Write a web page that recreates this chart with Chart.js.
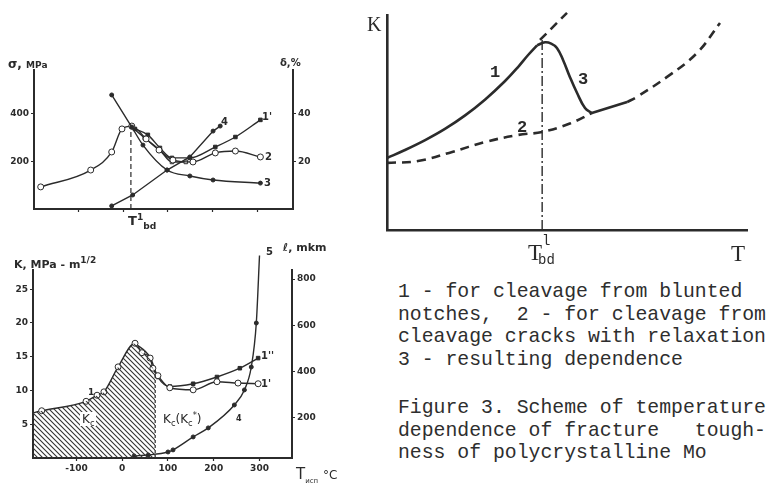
<!DOCTYPE html>
<html>
<head>
<meta charset="utf-8">
<script src="https://cdn.jsdelivr.net/npm/chart.js@4.4.0/dist/chart.umd.min.js"></script>
<style>
  body { margin: 0; width: 773px; height: 493px; background: #fff; position: relative; overflow: hidden; color: #2a2a2a; font-family: "Liberation Sans", sans-serif; }
  canvas { position: absolute; }
  .lb { position: absolute; white-space: nowrap; line-height: 1; }
  .hw { font-family: "DejaVu Sans", sans-serif; font-weight: bold; font-size: 10px; }
  .sr { font-family: "Liberation Serif", serif; }
  .tw { font-family: "Liberation Mono", monospace; }
  .cap { position: absolute; left: 398px; font-family: "Liberation Mono", monospace; font-size: 19.8px; line-height: 22.7px; white-space: pre; color: #2e2e2e; }
  sub, sup { font-size: 70%; line-height: 0; }
</style>
</head>
<body>
<canvas id="topChart" width="330" height="175" style="left:0;top:60px"></canvas>
<canvas id="botChart" width="340" height="248" style="left:0;top:245px"></canvas>
<canvas id="schemeChart" width="410" height="262" style="left:357px;top:0"></canvas>

<!-- top-left panel labels -->
<div class="lb hw" style="left:8px;top:58px;font-size:12px">σ, <span style="font-size:9px">MPa</span></div>
<div class="lb hw" style="left:280px;top:58px;font-size:10px">δ,%</div>
<div class="lb hw" style="left:128px;top:214px;font-size:13px">T<sup>1</sup><sub>bd</sub></div>
<div class="lb hw" style="left:262px;top:112px">1'</div>
<div class="lb hw" style="left:221px;top:117px">4</div>
<div class="lb hw" style="left:265px;top:152px">2</div>
<div class="lb hw" style="left:264px;top:178px">3</div>

<!-- bottom-left panel labels -->
<div class="lb hw" style="left:14px;top:259px;font-size:11px">K, MPa - m<sup style="font-size:9px">1/2</sup></div>
<div class="lb hw" style="left:283px;top:242px;font-size:11px">ℓ, mkm</div>
<div class="lb hw" style="left:88px;top:388px;font-size:9px">1</div>
<div class="lb hw" style="left:80px;top:412px;font-size:12px;font-weight:normal;background:#fff;padding:1px 2px">K<sub>c</sub></div>
<div class="lb hw" style="left:163px;top:413px;font-size:12px;font-weight:normal">K<sub>c</sub>(K<sub>c</sub><sup>*</sup>)</div>
<div class="lb hw" style="left:236px;top:415px;font-size:8px">4</div>
<div class="lb hw" style="left:266px;top:247px">5</div>
<div class="lb hw" style="left:261px;top:351px">1''</div>
<div class="lb hw" style="left:261px;top:379px">1'</div>
<div class="lb hw" style="left:296px;top:467px;font-size:15px;font-weight:normal">T<sub style="font-size:7px">исп</sub> <span style="font-size:12px">°C</span></div>

<!-- scheme labels -->
<div class="lb sr" style="left:367px;top:14px;font-size:20px">K</div>
<div class="lb sr" style="left:731px;top:242px;font-size:23px">T</div>
<div class="lb sr" style="left:528px;top:241px;font-size:23px">T</div>
<div class="lb tw" style="left:542px;top:234px;font-size:14px">l</div>
<div class="lb tw" style="left:538px;top:253px;font-size:14px">bd</div>
<div class="lb tw" style="left:490px;top:64px;font-size:17px;font-weight:bold">1</div>
<div class="lb tw" style="left:517px;top:119px;font-size:17px;font-weight:bold">2</div>
<div class="lb tw" style="left:578px;top:71px;font-size:17px;font-weight:bold">3</div>

<div class="cap" style="top:281px">1 - for cleavage from blunted
notches,  2 - for cleavage from
cleavage cracks with relaxation
3 - resulting dependence</div>
<div class="cap" style="top:397px">Figure 3. Scheme of temperature
dependence of fracture   tough-
ness of polycrystalline Mo</div>

<script>
// ---- top-left panel: sigma (MPa) and delta (%) vs temperature
const topTempTicks = [-100, 0, 100, 200, 300];
const topSigmaTicks = [200, 400];
const topDeltaTicks = [20, 40];
const topT3 = [-26, 19, 44, 98, 149, 201, 307];
const topS3 = [480, 345, 269, 164, 139, 122, 109];
const topT2 = [-185, -73, -26, -3, 19, 51, 80, 111, 156, 206, 251, 307];
const topS2 = [93, 164, 240, 337, 349, 295, 248, 206, 198, 236, 244, 219];
const topT1 = [26, 55, 82, 109, 149, 206, 251, 307];
const topS1 = [337, 312, 257, 215, 215, 261, 303, 375];
const topTsq = [19, 48, 82, 109, 140];
const topSsq = [345, 299, 248, 198, 198];
const topT4 = [-26, 21, 98, 149, 201, 217];
const topD4 = [1.3, 5.9, 16.4, 21.9, 32.8, 34.9];
const topTbd = [17, 17];
const topTbdS = [0, 345];

// ---- bottom-left panel: K (MPa m^1/2) and l (mkm) vs temperature
const botTempTicks = [-100, 0, 100, 200, 300];
const botKTicks = [5, 10, 15, 20, 25];
const botLTicks = [200, 400, 600, 800];
const botT1 = [-195, -176, -79, -55, -40, -9, 28, 43, 61, 67, 78, 104, 155, 207, 253, 297];
const botK1 = [6.7, 7.0, 8.4, 9.3, 9.8, 13.5, 17.0, 15.6, 14.8, 13.3, 12.2, 10.4, 10.1, 11.3, 11.1, 11.0];
const botT2 = [28, 61, 78, 104, 155, 207, 257, 297];
const botK2 = [17.0, 14.9, 12.0, 10.6, 11.0, 12.0, 13.3, 14.8];
const botTh = [-195, -176, -79, -55, -40, -9, 28, 43, 61, 67, 72];
const botKh = [6.7, 7.0, 8.4, 9.3, 9.8, 13.5, 17.0, 15.6, 14.8, 13.3, 13.0];
const botT5 = [26, 57, 100, 111, 155, 188, 245, 267, 282, 293, 300];
const botL5 = [36, 40, 53, 62, 118, 157, 256, 321, 420, 610, 902];
const botEdgeT = [72, 72];
const botEdgeK = [0, 13.0];

// ---- right panel: scheme K(T), arbitrary units
const c1T = [0, 5, 10.6, 16.1, 21.7, 27.2, 32.8, 36.4, 39.2, 41.7];
const c1K = [33.5, 37.2, 41.8, 47.0, 53.3, 60.6, 69.3, 75.8, 81.4, 85.9];
const c1dT = [42.5, 50];
const c1dK = [88.4, 101];
const c2T = [0, 8.6, 18.1, 27.2, 36.4, 43.1, 50.8, 56.9];
const c2K = [31.2, 32.1, 36.3, 40.9, 44.2, 45.6, 49.5, 54.4];
const c3T = [41.7, 43.9, 45.6, 47.2, 48.9, 50.8, 52.8, 55, 56.9];
const c3K = [85.9, 87.3, 86.7, 84.7, 79.1, 71.2, 63.7, 56.7, 54.4];
const c3sT = [56.9, 66.7];
const c3sK = [54.4, 59.5];
const c3dT = [66.7, 69.4, 77.8, 86.1, 92.5];
const c3dK = [59.5, 61.9, 71.2, 82.3, 96.3];
const bdT = [43.1, 43.1];
const bdK = [0, 89.8];

const INK = '#2b2b2b';
const pts = (xs, ys) => xs.map((x, i) => ({ x: x, y: ys[i] }));

function line(xs, ys, o) {
  return Object.assign({
    data: pts(xs, ys), showLine: true, borderColor: INK, backgroundColor: INK,
    borderWidth: 1.4, pointRadius: 2, pointBorderWidth: 1, pointBorderColor: INK,
    cubicInterpolationMode: 'monotone', clip: false, fill: false
  }, o);
}

function axis(pos, min, max, ticks, size, extra) {
  return Object.assign({
    type: 'linear', position: pos, min: min, max: max,
    afterBuildTicks: (a) => { a.ticks = ticks.map((v) => ({ value: v })); },
    afterFit: (s) => { if (s.isHorizontal()) s.height = size; else s.width = size; },
    grid: { drawOnChartArea: false, color: INK, tickLength: 3, tickWidth: 1.2 },
    border: { color: INK, width: 2 },
    ticks: { color: INK, autoSkip: false, maxRotation: 0, padding: 2,
      font: { family: 'DejaVu Sans', size: 9, weight: 'bold' } }
  }, extra || {});
}

const base = (pad) => ({
  responsive: false, animation: false, events: [],
  layout: { padding: pad },
  plugins: { legend: { display: false }, tooltip: { enabled: false } }
});

const hatch = (() => {
  const c = document.createElement('canvas');
  c.width = 5; c.height = 5;
  const g = c.getContext('2d');
  g.strokeStyle = '#333'; g.lineWidth = 1.1;
  g.beginPath();
  g.moveTo(-1, -1); g.lineTo(6, 6);
  g.moveTo(-1, 4); g.lineTo(1, 6);
  g.moveTo(4, -1); g.lineTo(6, 1);
  g.stroke();
  return g.createPattern(c, 'repeat');
})();

new Chart(document.getElementById('topChart'), {
  type: 'scatter',
  data: { datasets: [
    line(topTbd, topTbdS, { pointRadius: 0, borderWidth: 1.2, borderDash: [5, 3], cubicInterpolationMode: 'default', tension: 0 }),
    line(topT3, topS3, { pointRadius: 2 }),
    line(topT2, topS2, { pointRadius: 3, backgroundColor: '#fff' }),
    line(topTsq, topSsq, { pointRadius: 2.5, pointStyle: 'rect', backgroundColor: '#fff' }),
    line(topT1, topS1, { pointRadius: 2.5, pointStyle: 'rect' }),
    line(topT4, topD4, { yAxisID: 'y2', pointRadius: 2, tension: 0, cubicInterpolationMode: 'default' })
  ] },
  options: Object.assign(base({ top: 10, left: 0, right: 0, bottom: 0 }), {
    scales: {
      x: axis('bottom', -200, 380, topTempTicks, 26, { ticks: { callback: () => '' } }),
      y: axis('left', 0, 585, topSigmaTicks, 34),
      y2: axis('right', 0, 58.5, topDeltaTicks, 37)
    }
  })
});

new Chart(document.getElementById('botChart'), {
  type: 'scatter',
  data: { datasets: [
    line(botTh, botKh, { pointRadius: 0, borderWidth: 0, fill: 'origin', backgroundColor: hatch }),
    line(botEdgeT, botEdgeK, { pointRadius: 0, borderWidth: 1.2, borderDash: [3, 2], cubicInterpolationMode: 'default', tension: 0 }),
    line(botT1, botK1, { pointRadius: (c) => (c.dataIndex === 0 ? 0 : 3), backgroundColor: '#fff' }),
    line(botT2, botK2, { pointRadius: 2.5, pointStyle: 'rect' }),
    line(botT5, botL5, { yAxisID: 'y2', pointRadius: 2 })
  ] },
  options: Object.assign(base({ top: 25, left: 0, right: 0, bottom: 0 }), {
    scales: {
      x: axis('bottom', -195, 371, botTempTicks, 35),
      y: axis('left', 0, 27.85, botKTicks, 33),
      y2: axis('right', 27, 839, botLTicks, 48)
    }
  })
});

const thick = { borderWidth: 2.6, pointRadius: 0, cubicInterpolationMode: 'default', tension: 0.4 };
const dashed = Object.assign({ borderDash: [9, 6] }, thick);
new Chart(document.getElementById('schemeChart'), {
  type: 'scatter',
  data: { datasets: [
    line(bdT, bdK, { borderWidth: 1.4, pointRadius: 0, borderDash: [10, 3, 2, 3], tension: 0, cubicInterpolationMode: 'default' }),
    line(c1T, c1K, thick),
    line(c1dT, c1dK, Object.assign({}, dashed, { tension: 0 })),
    line(c2T, c2K, dashed),
    line(c3T, c3K, thick),
    line(c3sT, c3sK, Object.assign({}, thick, { tension: 0 })),
    line(c3dT, c3dK, dashed)
  ] },
  options: Object.assign(base({ top: 15, left: 30, right: 20, bottom: 32 }), {
    scales: {
      x: axis('bottom', 0, 100, [], 0, { ticks: { display: false }, grid: { display: false }, border: { color: INK, width: 2.6 } }),
      y: axis('left', 0, 100, [], 0, { ticks: { display: false }, grid: { display: false }, border: { color: INK, width: 2.6 } })
    }
  })
});
</script>
</body>
</html>
